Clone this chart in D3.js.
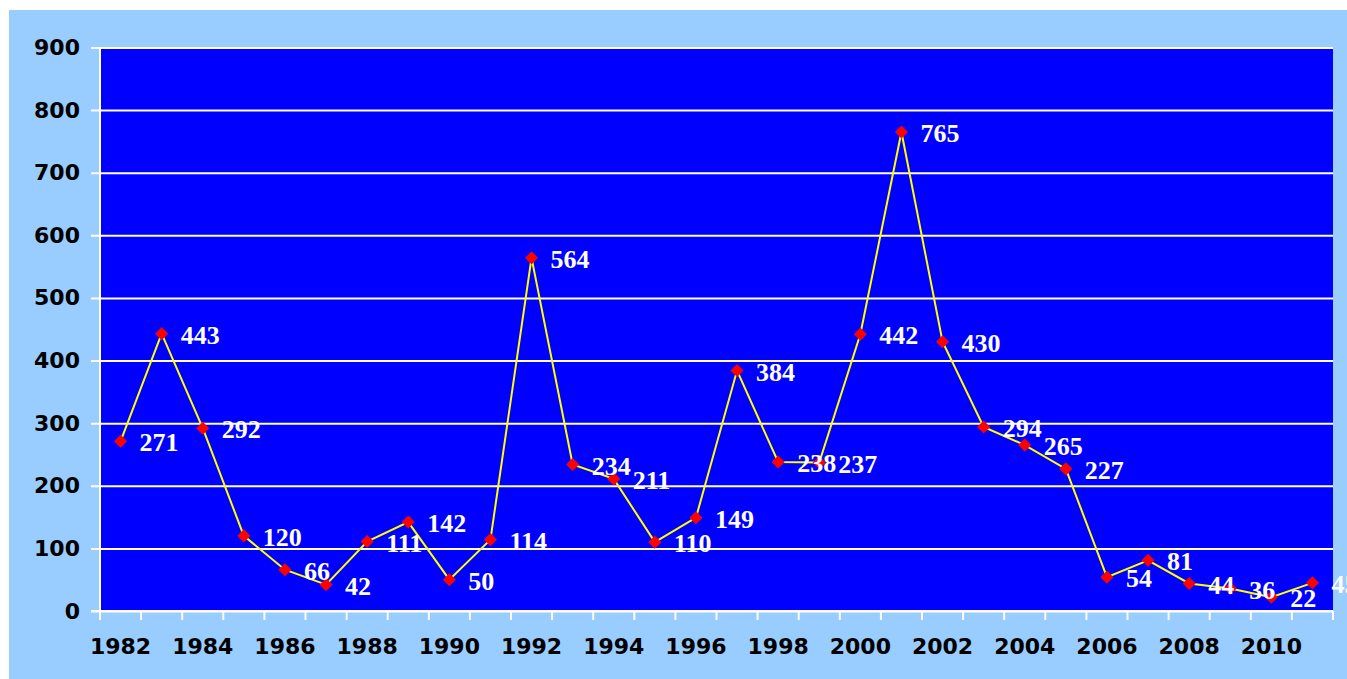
<!DOCTYPE html>
<html>
<head>
<meta charset="utf-8">
<script src="https://cdn.jsdelivr.net/npm/d3@7"></script>
<style>
  body { margin: 0; background: #fff; }
  svg { display: block; }
  .lbl { font-family: "Liberation Serif", "Times New Roman", serif; font-weight: bold; font-size: 26px; fill: #fff; }
  .axtxt { font-family: "DejaVu Sans", Verdana, sans-serif; font-weight: bold; font-size: 22px; fill: #000; }
</style>
</head>
<body>
<svg id="chart" width="1347" height="679"></svg>
<script>
var years = [1982, 1983, 1984, 1985, 1986, 1987, 1988, 1989, 1990, 1991,
             1992, 1993, 1994, 1995, 1996, 1997, 1998, 1999, 2000, 2001,
             2002, 2003, 2004, 2005, 2006, 2007, 2008, 2009, 2010, 2011];
var values = [271, 443, 292, 120, 66, 42, 111, 142, 50, 114,
              564, 234, 211, 110, 149, 384, 238, 237, 442, 765,
              430, 294, 265, 227, 54, 81, 44, 36, 22, 45];
var yTicks = [0, 100, 200, 300, 400, 500, 600, 700, 800, 900];

var svg = d3.select("#chart"),
    WIDTH = 1347,
    HEIGHT = 679,
    MARGINS = { top: 47.5, right: 14, bottom: 68, left: 100 };

var xScale = d3.scaleBand()
    .domain(years)
    .range([MARGINS.left, WIDTH - MARGINS.right])
    .padding(0);

var yScale = d3.scaleLinear()
    .domain([0, 900])
    .range([HEIGHT - MARGINS.bottom, MARGINS.top]);

// light blue backdrop
svg.append("rect")
    .attr("x", 9).attr("y", 10)
    .attr("width", WIDTH - 9).attr("height", HEIGHT - 10)
    .attr("fill", "#99ccff");

// plot area
svg.append("rect")
    .attr("x", MARGINS.left).attr("y", MARGINS.top)
    .attr("width", WIDTH - MARGINS.right - MARGINS.left)
    .attr("height", yScale(0) - MARGINS.top)
    .attr("fill", "#0000ff");

// y axis with gridlines
var yAxis = d3.axisLeft(yScale)
    .tickValues(yTicks)
    .tickSize(-(WIDTH - MARGINS.right - MARGINS.left))
    .tickPadding(20);

var yG = svg.append("g")
    .attr("transform", "translate(" + MARGINS.left + ",0)")
    .call(yAxis);
yG.select(".domain").remove();
yG.selectAll(".tick line")
    .attr("x1", -9)
    .attr("stroke", "#fff")
    .attr("stroke-width", 2);
yG.selectAll(".tick text").attr("class", "axtxt").attr("font-size", null).attr("font-family", null).attr("fill", null);

// y axis line
svg.append("line")
    .attr("x1", MARGINS.left).attr("x2", MARGINS.left)
    .attr("y1", MARGINS.top).attr("y2", yScale(0) + 9)
    .attr("stroke", "#fff").attr("stroke-width", 2);

// x axis: ticks at band edges, labels every other year
var xG = svg.append("g")
    .attr("transform", "translate(0," + yScale(0) + ")");

xG.append("line")
    .attr("x1", MARGINS.left - 9).attr("x2", WIDTH - MARGINS.right)
    .attr("stroke", "#fff").attr("stroke-width", 2);

var edges = years.map(function(y) { return xScale(y); })
    .concat([xScale(years[years.length - 1]) + xScale.bandwidth()]);
xG.selectAll(".xtick")
    .data(edges)
    .enter().append("line")
    .attr("x1", function(d) { return d; })
    .attr("x2", function(d) { return d; })
    .attr("y1", 0).attr("y2", 9)
    .attr("stroke", "#fff").attr("stroke-width", 2);

xG.selectAll(".xlab")
    .data(years.filter(function(y, i) { return i % 2 === 0; }))
    .enter().append("text")
    .attr("class", "axtxt")
    .attr("x", function(d) { return xScale(d) + xScale.bandwidth() / 2; })
    .attr("y", 35)
    .attr("dy", "0.35em")
    .attr("text-anchor", "middle")
    .text(function(d) { return d; });

var cx = function(i) { return xScale(years[i]) + xScale.bandwidth() / 2; };

// series line
var lineGen = d3.line()
    .x(function(d, i) { return cx(i); })
    .y(function(d) { return yScale(d); });

svg.append("path")
    .attr("d", lineGen(values))
    .attr("fill", "none")
    .attr("stroke", "#ffff00")
    .attr("stroke-width", 2);

// diamond markers
var marker = d3.symbol().type(d3.symbolSquare).size(85);
svg.selectAll(".pt")
    .data(values)
    .enter().append("path")
    .attr("d", marker)
    .attr("transform", function(d, i) {
      return "translate(" + cx(i) + "," + yScale(d) + ") rotate(45)";
    })
    .attr("fill", "#ff0000");

// value labels
svg.selectAll(".lbl")
    .data(values)
    .enter().append("text")
    .attr("class", "lbl")
    .attr("x", function(d, i) { return cx(i) + 19; })
    .attr("y", function(d) { return yScale(d) + 1; })
    .attr("dy", "0.35em")
    .text(function(d) { return d; });
</script>
</body>
</html>
